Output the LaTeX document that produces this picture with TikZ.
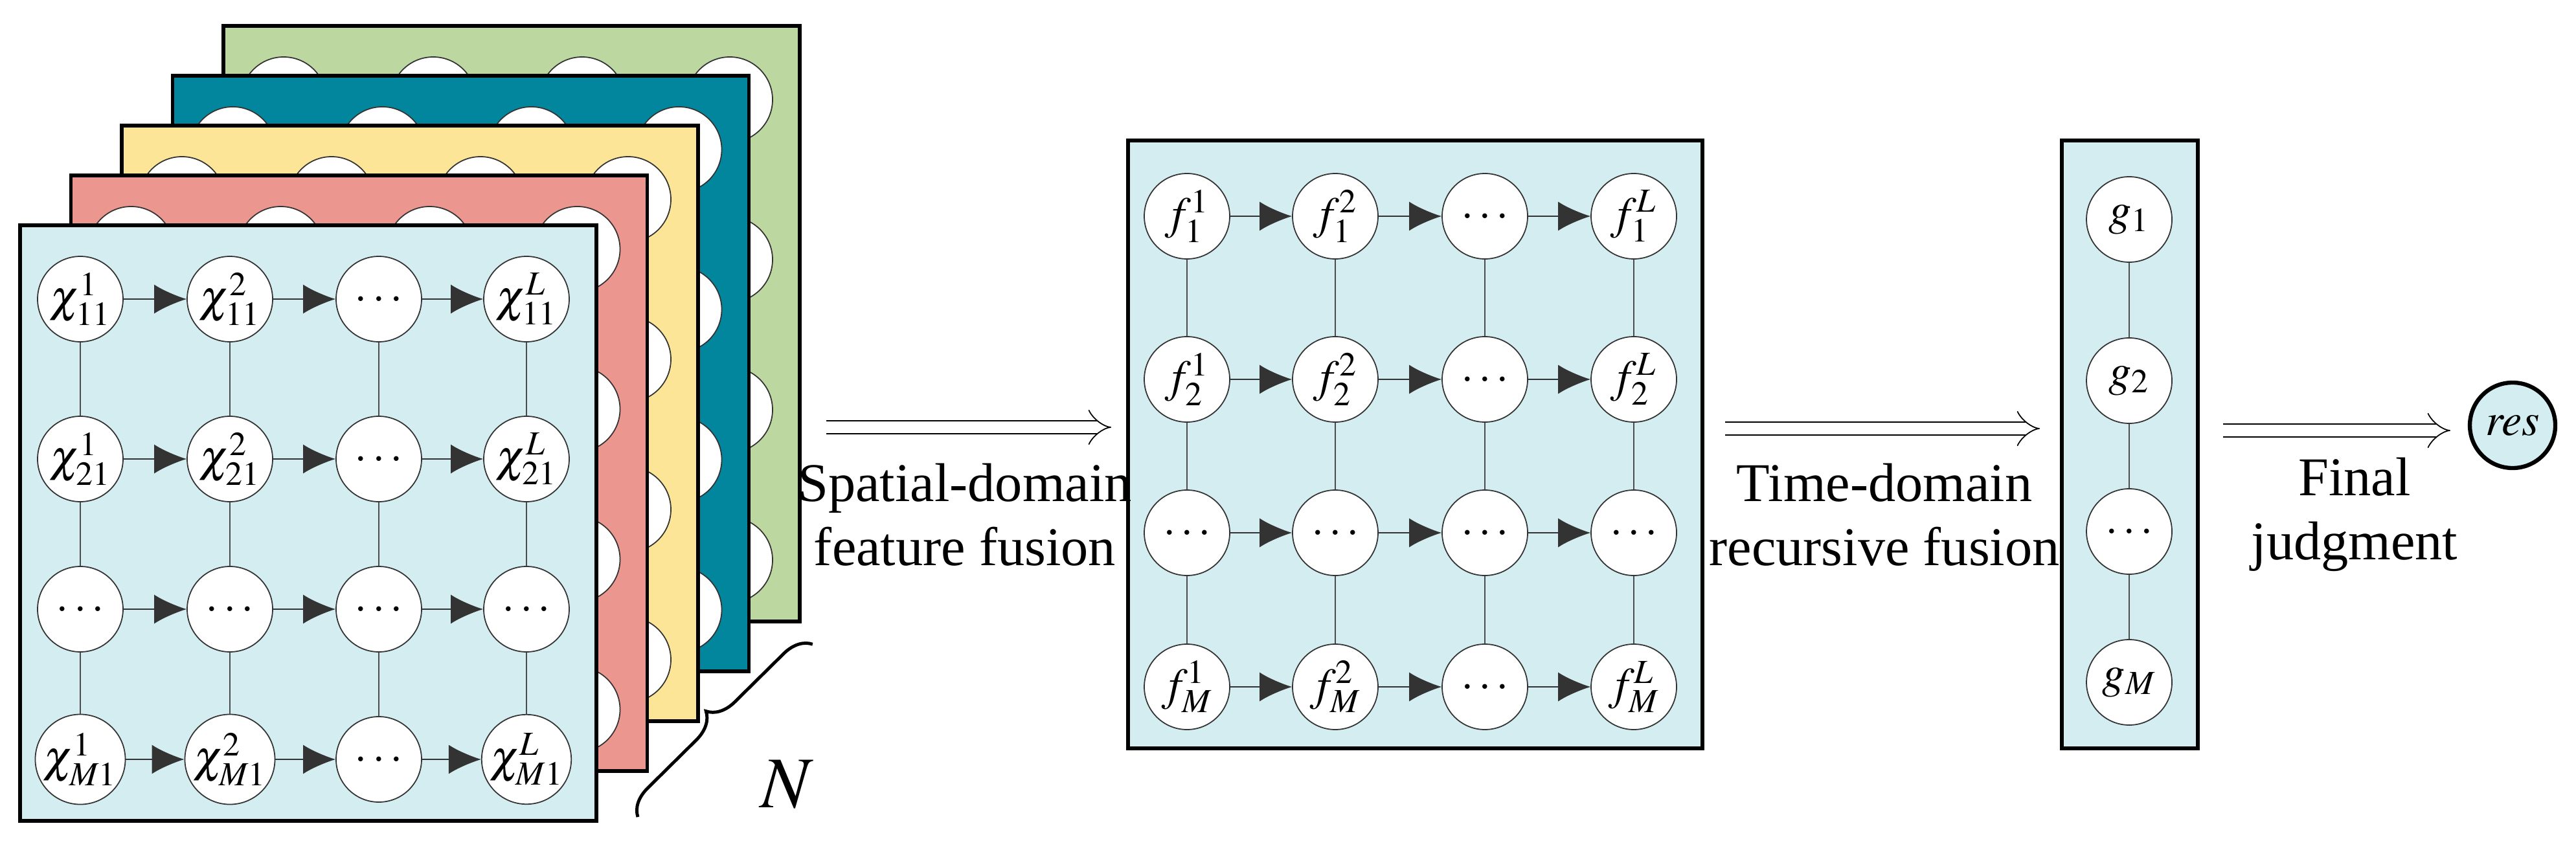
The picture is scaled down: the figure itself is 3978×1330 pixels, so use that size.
\documentclass[tikz,border=0pt]{standalone}
\usepackage{mathptmx}
\usepackage{fontspec}
\setmainfont{Liberation Serif}
\usetikzlibrary{arrows.meta, decorations.pathreplacing}

\definecolor{panelblue}{HTML}{D4EDF1}
\definecolor{panelred}{HTML}{EB968E}
\definecolor{panelyellow}{HTML}{FDE598}
\definecolor{panelteal}{HTML}{01869E}
\definecolor{panelgreen}{HTML}{BDD7A0}

\tikzset{
  panel/.style={draw=black, line width=1.6pt},
  unit/.style={circle, draw=black!80, fill=white, line width=0.5pt,
    minimum size=13.2mm, inner sep=0pt, font=\fontsize{20}{23}\selectfont},
  link/.style={draw=black!70, line width=0.5pt},
  flow/.style={draw=black!80, line width=0.7pt, -{Latex[length=5mm,width=4.5mm]}},
  fuse/.style={draw=black, line width=0.5pt, double, double distance=1.8mm,
    -{Implies[length=2mm]}},
  caption/.style={align=center, font=\fontsize{24}{28}\selectfont}
}

\begin{document}
\begin{tikzpicture}[x=0.1mm, y=-0.1mm]
    \useasboundingbox (0,0) rectangle (3978,1330);

    % stacked panels behind the front one
    \foreach \k/\col in {4/panelgreen, 3/panelteal, 2/panelyellow, 1/panelred} {
        \begin{scope}[shift={(78.5*\k,-77*\k)}]
            \draw[panel, fill=\col] (31,348) rectangle (921,1268);
            \foreach \x in {124,355,585,813}
                \foreach \y in {462,709,941,1173}
                    \draw[black!80, fill=white, line width=0.5pt] (\x,\y) circle[radius=66];
        \end{scope}
    }

    % front panel
    \draw[panel, fill=panelblue] (31,348) rectangle (921,1268);
    \foreach \r/\y/\s in {1/462/11, 2/709/21, 3/941/, 4/1173/M1} {
        \foreach \c/\x/\t in {1/124/1, 2/355/2, 3/585/, 4/813/L} {
            \pgfmathparse{(\r==3 || \c==3) ? 1 : 0}
            \ifnum\pgfmathresult=1
                \node[unit] (x\r\c) at (\x,\y) {$\ldots$};
            \else
                \node[unit] (x\r\c) at (\x,\y) {$\chi_{\s}^{\t}$};
            \fi
        }
    }
    \foreach \c in {1,2,3,4} {
        \draw[link] (x1\c) -- (x2\c);
        \draw[link] (x2\c) -- (x3\c);
        \draw[link] (x3\c) -- (x4\c);
    }
    \foreach \r in {1,2,3,4} {
        \draw[flow] (x\r1) -- (x\r2);
        \draw[flow] (x\r2) -- (x\r3);
        \draw[flow] (x\r3) -- (x\r4);
    }

    % N brace
    \coordinate (bt) at (1255,995);
    \coordinate (bb) at (985,1262);
    \draw[line width=1.4pt, decorate, decoration={brace, amplitude=12pt}]
        (bb) -- (bt);
    \node[font=\fontsize{32}{36}\selectfont] (nlab) at (1215,1212) {$N$};

    % spatial fusion panel
    \draw[panel, fill=panelblue] (1742,217) rectangle (2629,1156);
    \foreach \r/\y/\s in {1/334/1, 2/586/2, 3/823/, 4/1061/M} {
        \foreach \c/\x/\t in {1/1833/1, 2/2062/2, 3/2293/, 4/2523/L} {
            \pgfmathparse{(\r==3 || \c==3) ? 1 : 0}
            \ifnum\pgfmathresult=1
                \node[unit] (f\r\c) at (\x,\y) {$\ldots$};
            \else
                \node[unit] (f\r\c) at (\x,\y) {$f_{\s}^{\t}$};
            \fi
        }
    }
    \foreach \c in {1,2,3,4} {
        \draw[link] (f1\c) -- (f2\c);
        \draw[link] (f2\c) -- (f3\c);
        \draw[link] (f3\c) -- (f4\c);
    }
    \foreach \r in {1,2,3,4} {
        \draw[flow] (f\r1) -- (f\r2);
        \draw[flow] (f\r2) -- (f\r3);
        \draw[flow] (f\r3) -- (f\r4);
    }

    % time fusion panel
    \draw[panel, fill=panelblue] (3184,217) rectangle (3394,1156);
    \node[unit] (g1) at (3288,339) {$g_1$};
    \node[unit] (g2) at (3288,588) {$g_2$};
    \node[unit] (g3) at (3288,821) {$\ldots$};
    \node[unit] (g4) at (3288,1054) {$g_M$};
    \draw[link] (g1) -- (g2);
    \draw[link] (g2) -- (g3);
    \draw[link] (g3) -- (g4);

    \node[unit, fill=panelblue, line width=1.8pt, draw=black] (res) at (3880,657) {$\mathit{res}$};

    % fusion arrows
    \coordinate (a1s) at (1276,660);
    \coordinate (a1e) at (1716,660);
    \coordinate (a2s) at (2664,662);
    \coordinate (a2e) at (3150,662);
    \coordinate (a3s) at (3433,665);
    \coordinate (a3e) at (3784,665);
    \draw[fuse] (a1s) -- (a1e);
    \draw[fuse] (a2s) -- (a2e);
    \draw[fuse] (a3s) -- (a3e);

    \node[caption] (t1) at (1490,795) {Spatial-domain\\feature fusion};
    \node[caption] (t2) at (2910,795) {Time-domain\\recursive fusion};
    \node[caption] (t3) at (3636,795) {Final\\judgment};
\end{tikzpicture}
\end{document}
